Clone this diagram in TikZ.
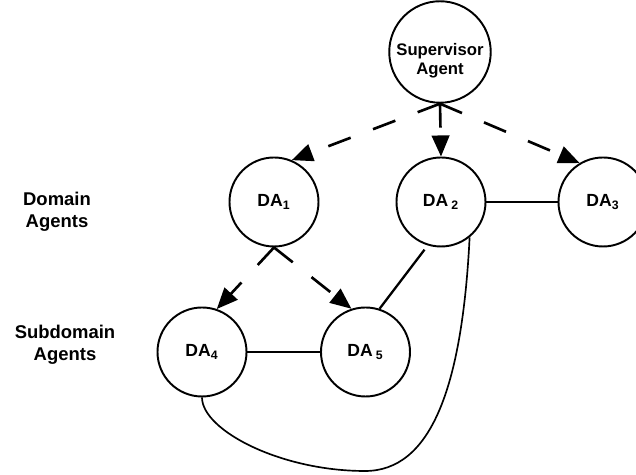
\documentclass[tikz,border=0pt]{standalone}
\usepackage{fontspec}
\setmainfont{Liberation Sans}
\usetikzlibrary{arrows.meta}
\begin{document}
\begin{tikzpicture}[>={Triangle[length=12pt,width=10pt]},
    agent/.style={draw, circle, line width=1.1pt, minimum size=1.78cm, inner sep=0pt,
      font=\bfseries\fontsize{10}{12}\selectfont},
    ctrl/.style={->, line width=1.5pt, dash pattern=on 13.6pt off 13.6pt},
    link/.style={line width=0.95pt},
    tier/.style={align=center, font=\bfseries\fontsize{10.5}{12.5}\selectfont}]
  \useasboundingbox (0, 0) rectangle (12.72, 9.5);
  % row labels
  \node[tier] (dom) at (1.14, 5.26) {Domain\\Agents};
  \node[tier] (sub) at (1.30, 2.60) {Subdomain\\Agents};
  % agents
  \node[agent, align=center, font=\bfseries\fontsize{9.5}{10.5}\selectfont] (sup) at (8.8, 8.46)
    {\rule{0pt}{17pt}Supervisor\\Agent};
  \node[agent] (da1) at (5.48, 5.46) {DA\textsubscript{1}};
  \node[agent] (da2) at (8.82, 5.46) {DA\,\textsubscript{2}};
  \node[agent] (da3) at (12.06, 5.46) {DA\textsubscript{3}};
  \node[agent] (da4) at (4.04, 2.46) {DA\textsubscript{4}};
  \node[agent] (da5) at (7.31, 2.46) {DA\,\textsubscript{5}};
  % control
  \draw[ctrl] (sup.south) -- (da1.67);
  \draw[ctrl] (sup.south) -- (da2.north);
  \draw[ctrl] (sup.south) -- (da3.121);
  \draw[ctrl] (da1.south) -- (da4.71);
  \draw[ctrl] (da1.south) -- (da5.108);
  % peer links
  \draw[link] (da2.east) -- (da3.west);
  \draw[link] (da4.east) -- (da5.west);
  \draw[link, line width=1.3pt, shorten <=3pt] (da2.253) -- (da5.72);
  \draw[link] (da2.-51) .. controls (9.24, 1.7) and (8.6, 0.08) .. (7.3, 0.08)
    .. controls (5.6, 0.08) and (4.04, 0.9) .. (da4.south);
\end{tikzpicture}
\end{document}
